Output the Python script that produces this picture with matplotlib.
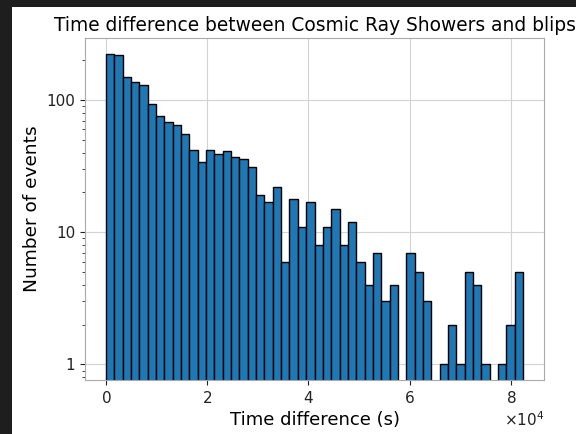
import numpy as np
import matplotlib
matplotlib.use("Agg")
import matplotlib.pyplot as plt
from matplotlib.patches import Rectangle

t_min = 0.0
t_max = 82400.0
n_bins = 50
counts = [225, 219, 150, 136, 130, 93, 76, 68, 65, 55,
          42, 34, 42, 39, 41, 37, 36, 31, 19, 17,
          22, 6, 18, 11, 17, 8, 11, 15, 8, 12,
          6, 4, 7, 3, 4, 0, 7, 5, 3, 0,
          1, 2, 1, 5, 4, 1, 0, 1, 2, 5]

edges = np.linspace(t_min, t_max, n_bins + 1)
centers = 0.5 * (edges[:-1] + edges[1:])

fig = plt.figure(figsize=(5.76, 4.34), dpi=100)
fig.patch.set_facecolor("white")
# bordas escuras do screenshot (esquerda e topo)
fig.patches.append(Rectangle((0, 0), 12 / 576, 1, transform=fig.transFigure,
                             facecolor="#1e1e1e", edgecolor="none", zorder=-10))
fig.patches.append(Rectangle((0, (434 - 7) / 434), 1, 1, transform=fig.transFigure,
                             facecolor="#1e1e1e", edgecolor="none", zorder=-10))

ax = fig.add_axes([85 / 576, (434 - 380) / 434, (544 - 85) / 576, (380 - 38) / 434])
ax.hist(centers, bins=edges, weights=counts, log=True,
        color="#1f77b4", edgecolor="black", linewidth=1.0, zorder=2)

ax.set_xlim(-4120, 86520)
ax.set_ylim(0.763, 295)
ax.set_yticks([1, 10, 100])
ax.set_yticklabels(["1", "10", "100"])
ax.ticklabel_format(axis="x", style="sci", scilimits=(0, 0), useMathText=True)
ax.set_xticks([0, 20000, 40000, 60000, 80000])

ax.grid(True, which="major", color="#d3d3d3", linewidth=0.8, zorder=0)
ax.set_axisbelow(True)
for s in ax.spines.values():
    s.set_color("#aaaaaa")
ax.tick_params(colors="#222222", labelsize=11)
ax.tick_params(which="minor", colors="#222222")

ax.set_xlabel("Time difference (s)", fontsize=13)
ax.set_ylabel("Number of events", fontsize=13.3)
ax.set_title("Time difference between Cosmic Ray Showers and blips",
             fontsize=13.4, pad=5)
ax.xaxis.get_offset_text().set_fontsize(11)

plt.savefig("out.png", dpi=100)
plt.close()
